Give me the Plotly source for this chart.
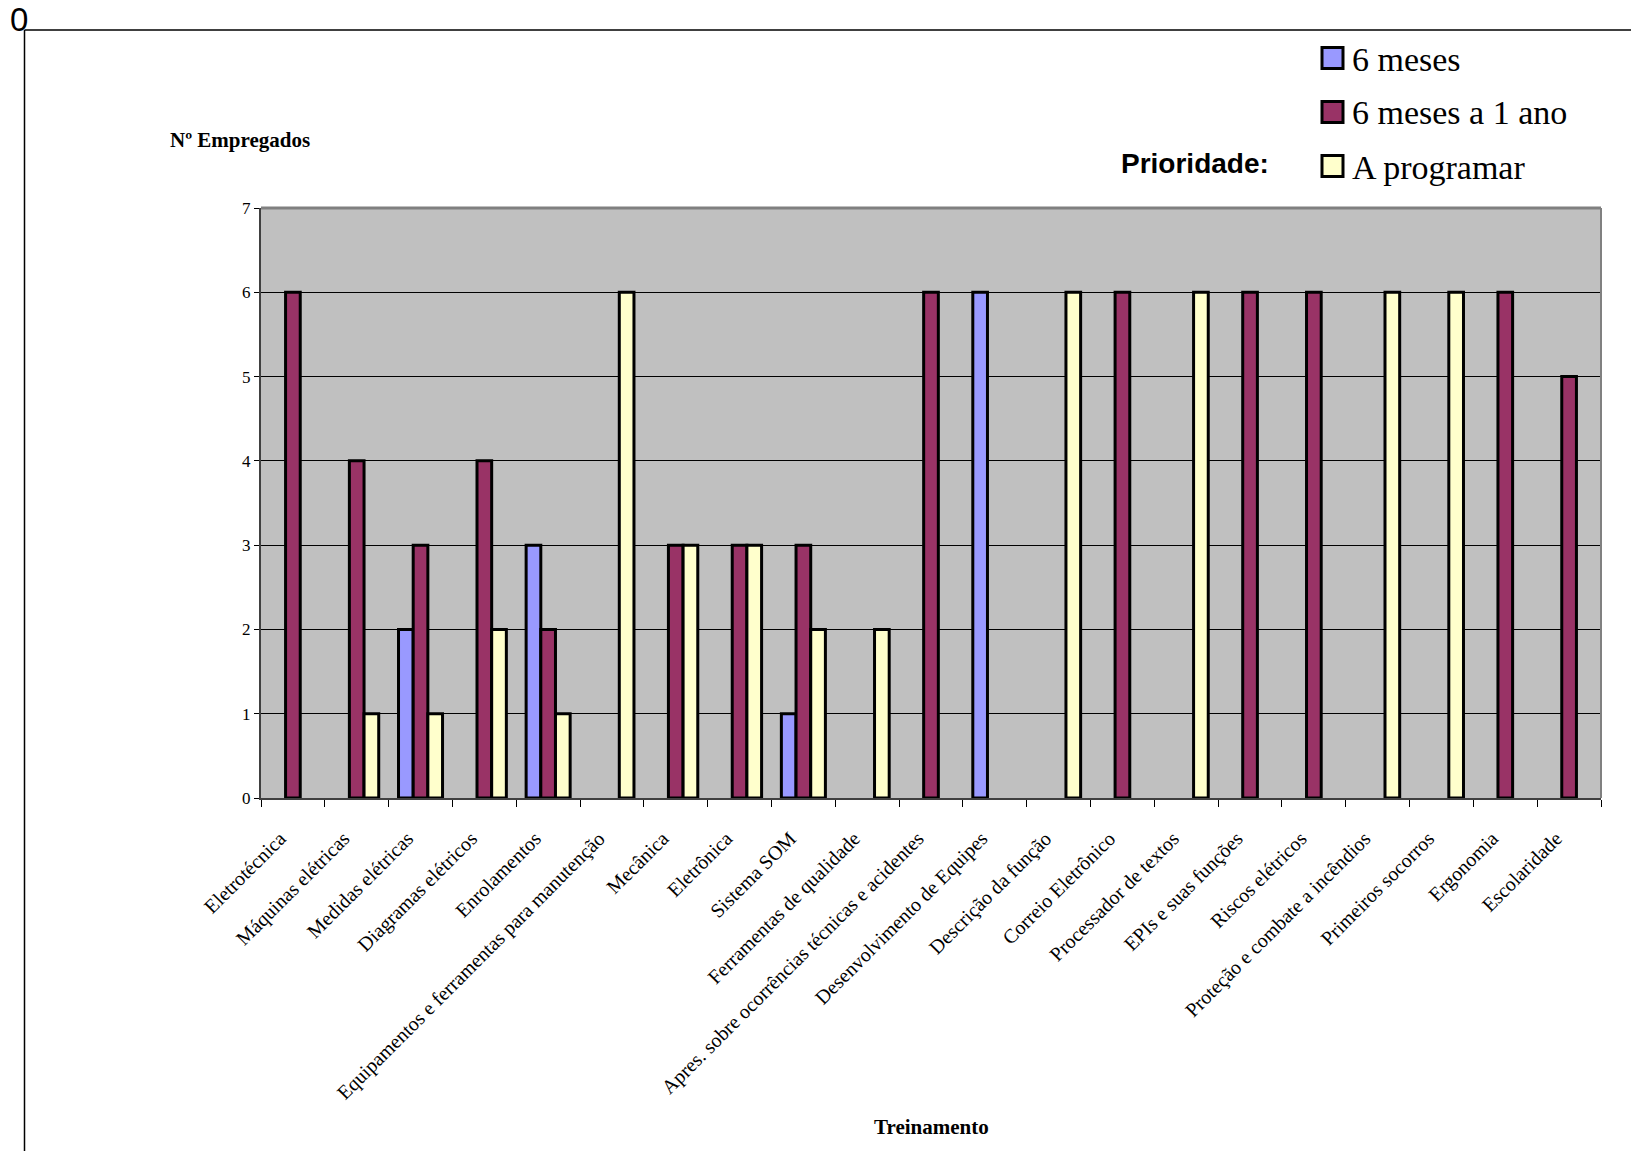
import plotly.graph_objects as go

categories = [
    "Eletrotécnica", "Máquinas elétricas", "Medidas elétricas", "Diagramas elétricos",
    "Enrolamentos", "Equipamentos e ferramentas para manutenção", "Mecânica", "Eletrônica",
    "Sistema SOM", "Ferramentas de qualidade", "Apres. sobre ocorrências técnicas e acidentes",
    "Desenvolvimento de Equipes", "Descrição da função", "Correio Eletrônico",
    "Processador de textos", "EPIs e suas funções", "Riscos elétricos",
    "Proteção e combate a incêndios", "Primeiros socorros", "Ergonomia", "Escolaridade",
]
seis_meses = [None, None, 2, None, 3, None, None, None, 1, None, None,
              6, None, None, None, None, None, None, None, None, None]
seis_a_um_ano = [6, 4, 3, 4, 2, None, 3, 3, 3, None, 6,
                 None, None, 6, None, 6, 6, None, None, 6, 5]
a_programar = [None, 1, 1, 2, 1, 6, 3, 3, 2, 2, None,
               None, 6, None, 6, None, None, 6, 6, None, None]
series_names = ["6 meses", "6 meses a 1 ano", "A programar"]
series_colors = ["#9999FF", "#993366", "#FFFFCC"]
y_ticks = [0, 1, 2, 3, 4, 5, 6, 7]

W, H = 1631, 1151
L, R, T, B = 261, 1601, 208, 798
PW, PH = R - L, B - T

def px(x):
    return (x - L) / PW

def py(y):
    return (B - y) / PH

fig = go.Figure()
for name, vals, col in zip(series_names, [seis_meses, seis_a_um_ano, a_programar], series_colors):
    fig.add_trace(go.Bar(
        x=categories, y=vals, name=name,
        marker=dict(color=col, line=dict(color="black", width=3)),
        showlegend=False,
    ))

serif = "Liberation Serif, Times New Roman, serif"
sans = "Liberation Sans, Arial, sans-serif"

fig.update_layout(
    width=W, height=H,
    margin=dict(l=L, r=W - R, t=T, b=H - B, autoexpand=False),
    paper_bgcolor="white", plot_bgcolor="#C0C0C0",
    barmode="group", bargap=0.31, bargroupgap=0,
    font=dict(family=serif, color="black"),
    xaxis=dict(
        tickangle=-45, tickfont=dict(family=serif, size=20, color="black"),
        ticks="outside", ticklen=7, tickwidth=1, tickcolor="black",
        tickson="boundaries", showgrid=False,
        showline=True, linecolor="#404040", linewidth=2,
        ticklabelstandoff=19, ticklabelshift=-13,
    ),
    yaxis=dict(
        range=[0, 7], tickvals=y_ticks, ticktext=[str(v) for v in y_ticks],
        tickfont=dict(family=serif, size=17, color="black"),
        ticks="outside", ticklen=5, tickcolor="black",
        showgrid=True, gridcolor="black", gridwidth=1,
        zeroline=False, showline=True, linecolor="#404040", linewidth=2,
    ),
)

shapes = [
    # outer frame lines
    dict(type="line", xref="paper", yref="paper", x0=px(24.5), x1=px(W + 5), y0=py(30), y1=py(30),
         line=dict(color="black", width=1.5)),
    dict(type="line", xref="paper", yref="paper", x0=px(24.5), x1=px(24.5), y0=py(30), y1=py(H + 5),
         line=dict(color="black", width=1.5)),
    # plot border top / right (gray)
    dict(type="line", xref="paper", yref="paper", x0=0, x1=1, y0=1, y1=1,
         line=dict(color="#808080", width=3)),
    dict(type="line", xref="paper", yref="paper", x0=1, x1=1, y0=0, y1=1,
         line=dict(color="#808080", width=2)),
]

annotations = [
    dict(text="0", xref="paper", yref="paper", x=px(8), y=py(20), xanchor="left", yanchor="middle",
         showarrow=False, font=dict(family=sans, size=33, color="black")),
    dict(text="<b>Nº Empregados</b>", xref="paper", yref="paper", x=px(168), y=py(140),
         xanchor="left", yanchor="middle", showarrow=False, font=dict(family=serif, size=21)),
    dict(text="<b>Treinamento</b>", xref="paper", yref="paper", x=px(931), y=py(1127),
         xanchor="center", yanchor="middle", showarrow=False, font=dict(family=serif, size=21)),
    dict(text="<b>Prioridade:</b>", xref="paper", yref="paper", x=px(1119), y=py(163),
         xanchor="left", yanchor="middle", showarrow=False, font=dict(family=sans, size=28)),
]

row_centers = [58, 112, 166]
for name, col, yc in zip(series_names, series_colors, row_centers):
    shapes.append(dict(type="rect", xref="paper", yref="paper",
                       x0=px(1322), x1=px(1343), y0=py(yc - 10.5), y1=py(yc + 10.5),
                       fillcolor=col, line=dict(color="black", width=3)))
    annotations.append(dict(text=name, xref="paper", yref="paper", x=px(1350), y=py(yc + 1),
                            xanchor="left", yanchor="middle", showarrow=False,
                            font=dict(family=serif, size=34, color="black")))

fig.update_layout(shapes=shapes, annotations=annotations)
fig.write_html("out.html")
